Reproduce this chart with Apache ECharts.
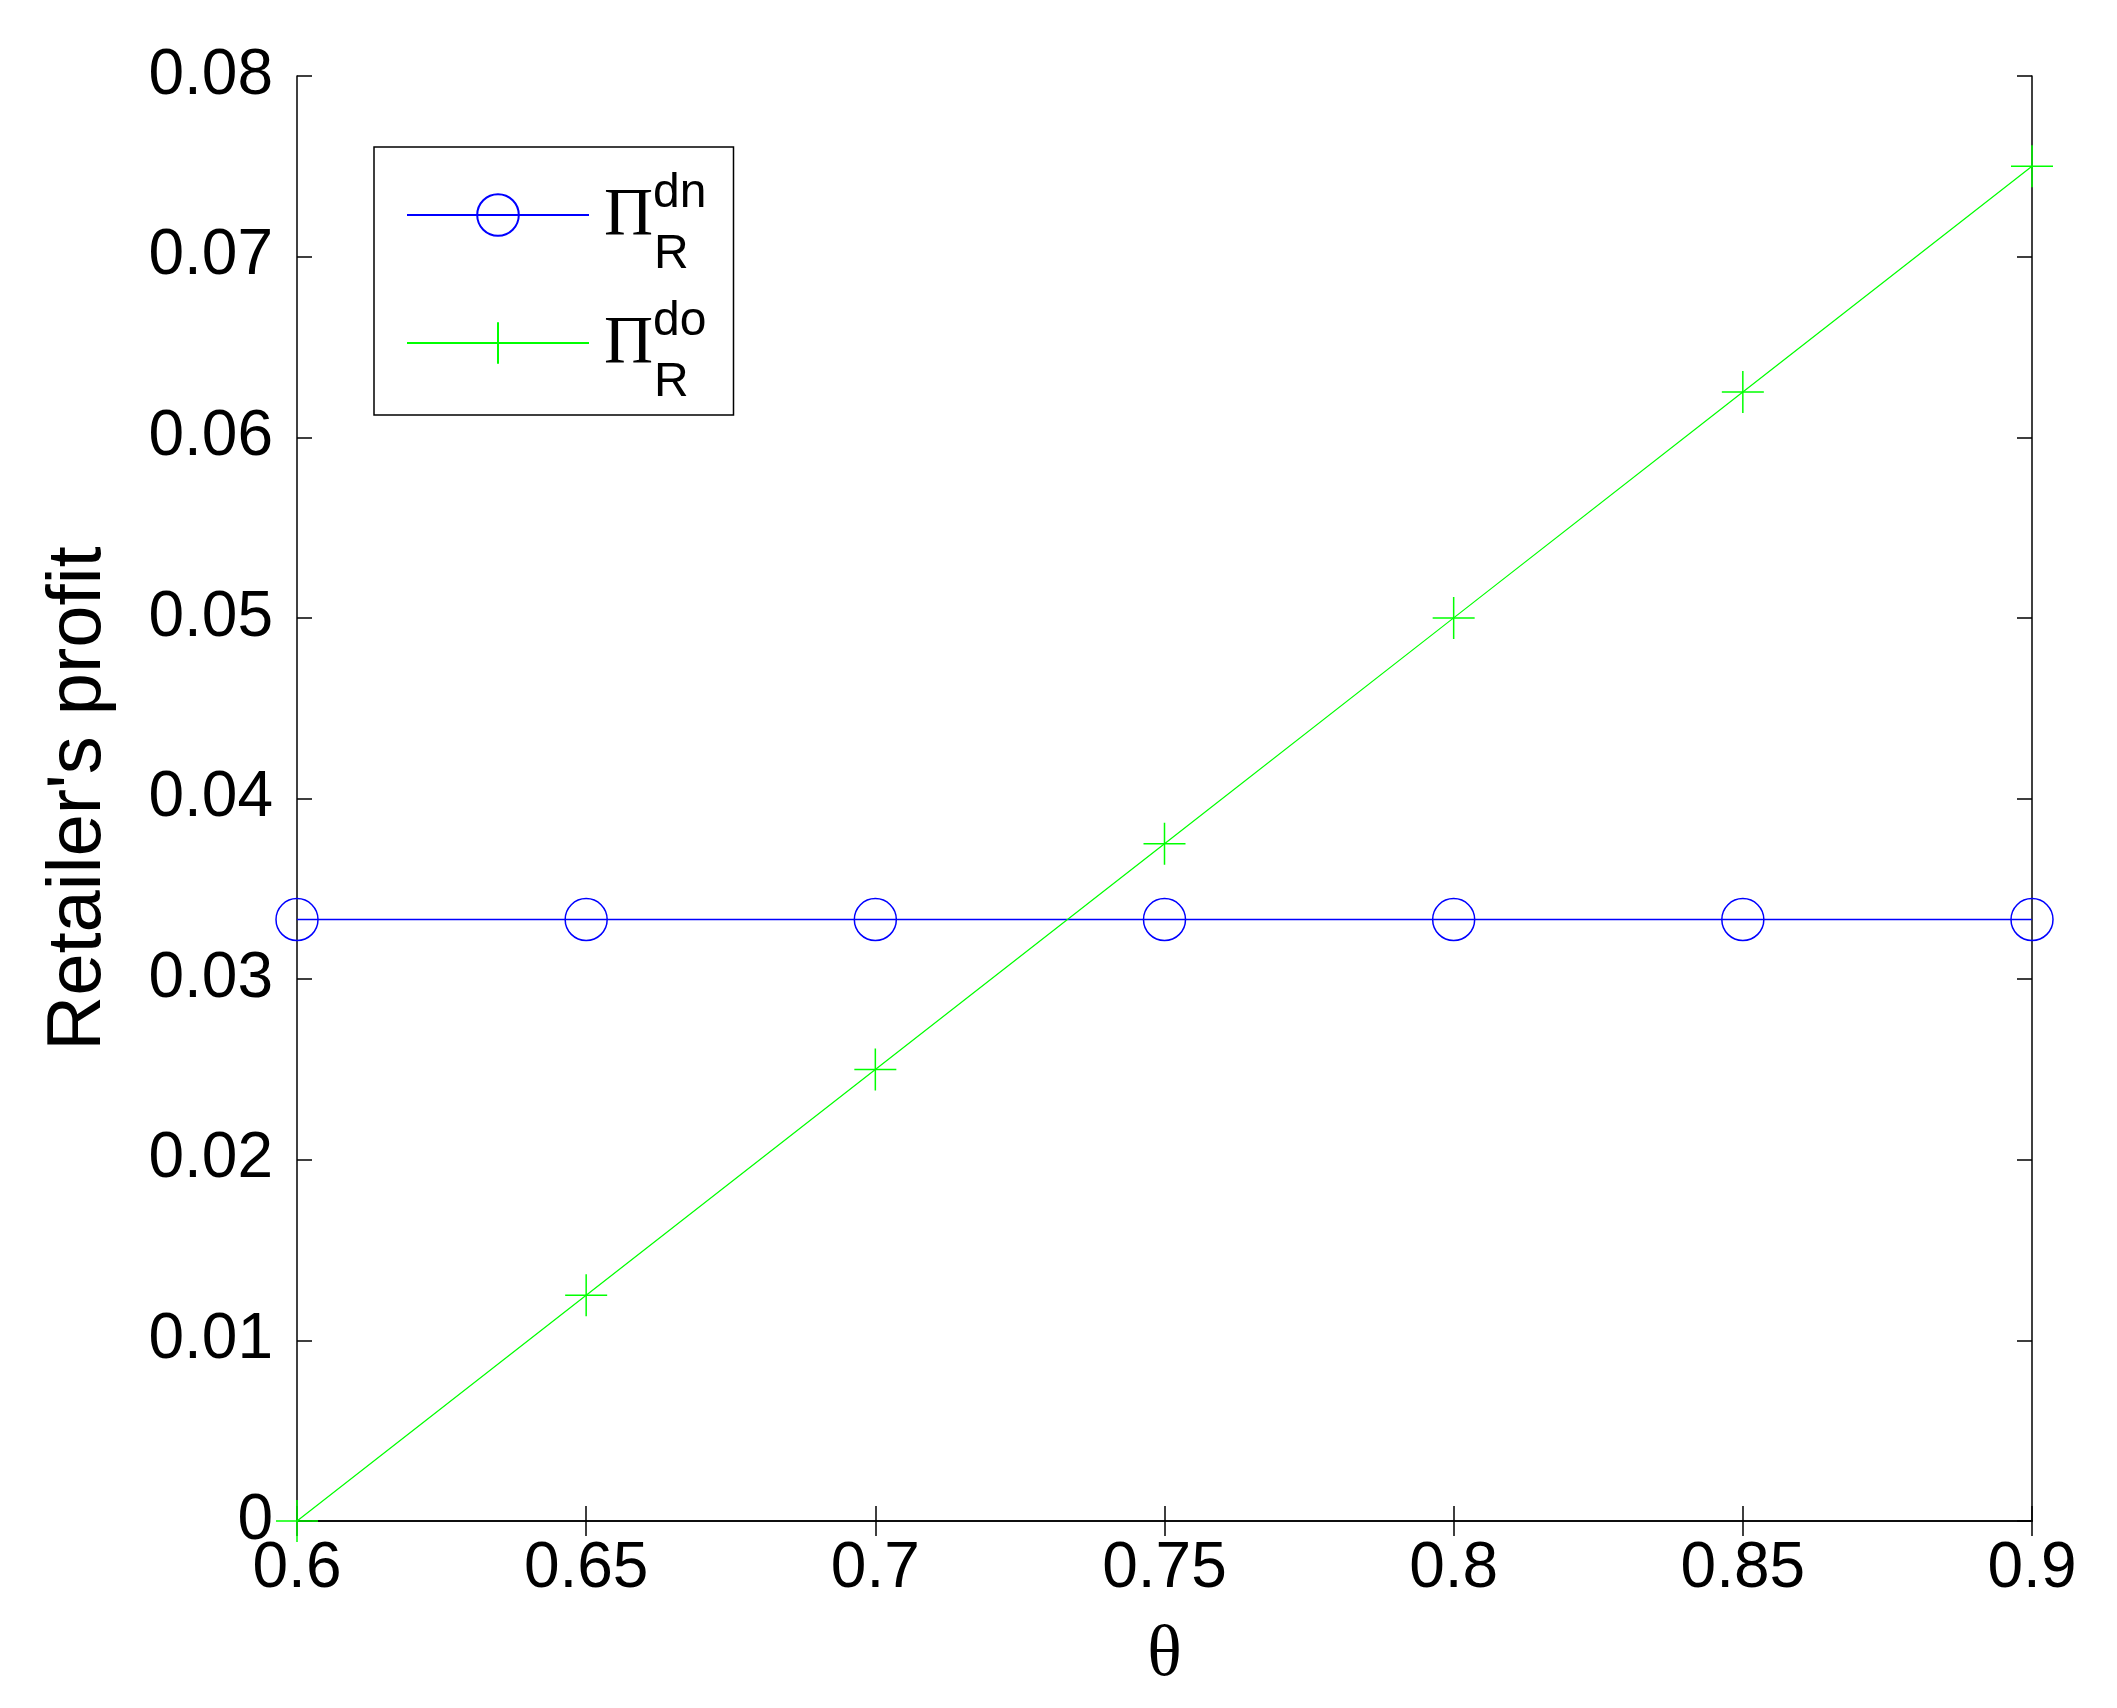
<!DOCTYPE html>
<html>
<head>
<meta charset="utf-8">
<script src="https://cdn.jsdelivr.net/npm/echarts@6/dist/echarts.min.js"></script>
<style>
  html, body { margin: 0; padding: 0; background: #fff; }
  #chart { width: 2117px; height: 1708px; }
</style>
</head>
<body>
<div id="chart"></div>
<script>
// theta values on the x axis
var thetas = [0.6, 0.65, 0.7, 0.75, 0.8, 0.85, 0.9];
// retailer's profit, two cases
var profitDn = [0.0333, 0.0333, 0.0333, 0.0333, 0.0333, 0.0333, 0.0333];
var profitDo = [0, 0.0125, 0.025, 0.0375, 0.05, 0.0625, 0.075];
var seriesSup = ['dn', 'do'];

var chart = echarts.init(document.getElementById('chart'));

function pairs(xs, ys) {
  return xs.map(function (x, i) { return [x, ys[i]]; });
}
function trimNum(v) {
  return String(parseFloat(v.toFixed(3)));
}

var tickFont = { fontFamily: 'Liberation Sans, Arial, sans-serif', fontSize: 64, color: '#000' };

var axisCommon = {
  axisLine: { show: true, lineStyle: { color: '#000', width: 1.5 } },
  axisTick: { show: true, inside: true, length: 15, lineStyle: { color: '#000', width: 1.5 } },
  splitLine: { show: false }
};

chart.setOption({
  animation: false,
  backgroundColor: '#fff',
  grid: { left: 297, right: 85, top: 76, bottom: 187, containLabel: false },
  legend: {
    orient: 'vertical',
    left: 374,
    top: 147,
    padding: [23, 27, 8, 32],
    itemWidth: 182,
    itemHeight: 52,
    itemGap: 19,
    borderColor: '#000',
    borderWidth: 1.5,
    backgroundColor: '#fff',
    selectedMode: false,
    data: seriesSup,
    formatter: function (name) {
      return '{pi|Π}{sup|' + name + '}\n{pad|}{sub|R}';
    },
    textStyle: {
      color: '#000',
      rich: {
        pi: { fontFamily: 'Liberation Serif, Times New Roman, serif', fontSize: 68, lineHeight: 80, verticalAlign: 'bottom', padding: [0, 0, 0, 10] },
        sup: { fontFamily: 'Liberation Sans, Arial, sans-serif', fontSize: 48, lineHeight: 48, verticalAlign: 'top' },
        pad: { width: 60, lineHeight: 10 },
        sub: { fontFamily: 'Liberation Sans, Arial, sans-serif', fontSize: 48, lineHeight: 10 }
      }
    }
  },
  xAxis: [
    Object.assign({}, axisCommon, {
      type: 'value', min: 0.6, max: 0.9, interval: 0.05, position: 'bottom',
      name: 'θ', nameLocation: 'middle', nameGap: 99,
      nameTextStyle: { fontFamily: 'Liberation Serif, Times New Roman, serif', fontSize: 72, color: '#000' },
      axisLabel: Object.assign({ margin: 16, formatter: trimNum }, tickFont)
    }),
    Object.assign({}, axisCommon, {
      type: 'value', min: 0.6, max: 0.9, interval: 0.05, position: 'top',
      axisLabel: { show: false }
    })
  ],
  yAxis: [
    Object.assign({}, axisCommon, {
      type: 'value', min: 0, max: 0.08, interval: 0.01, position: 'left',
      name: "Retailer's profit", nameLocation: 'middle', nameGap: 180,
      nameTextStyle: { fontFamily: 'Liberation Sans, Arial, sans-serif', fontSize: 76, color: '#000' },
      axisLabel: Object.assign({ margin: 24, formatter: trimNum }, tickFont)
    }),
    Object.assign({}, axisCommon, {
      type: 'value', min: 0, max: 0.08, interval: 0.01, position: 'right',
      axisLabel: { show: false }
    })
  ],
  series: [
    {
      name: 'dn',
      type: 'line',
      data: pairs(thetas, profitDn),
      symbol: 'circle',
      symbolSize: 42,
      showAllSymbol: true,
      clip: false,
      lineStyle: { color: '#0000ff', width: 1.5 },
      itemStyle: { color: 'rgba(0,0,0,0)', borderColor: '#0000ff', borderWidth: 1.5 },
      emphasis: { disabled: true }
    },
    {
      name: 'do',
      type: 'line',
      data: pairs(thetas, profitDo),
      symbol: 'path://M0,10L20,10M10,0L10,20',
      symbolSize: 42,
      showAllSymbol: true,
      clip: false,
      lineStyle: { color: '#00ff00', width: 1.2 },
      itemStyle: { color: 'rgba(0,0,0,0)', borderColor: '#00ff00', borderWidth: 1.5 },
      emphasis: { disabled: true }
    }
  ]
});
</script>
</body>
</html>
